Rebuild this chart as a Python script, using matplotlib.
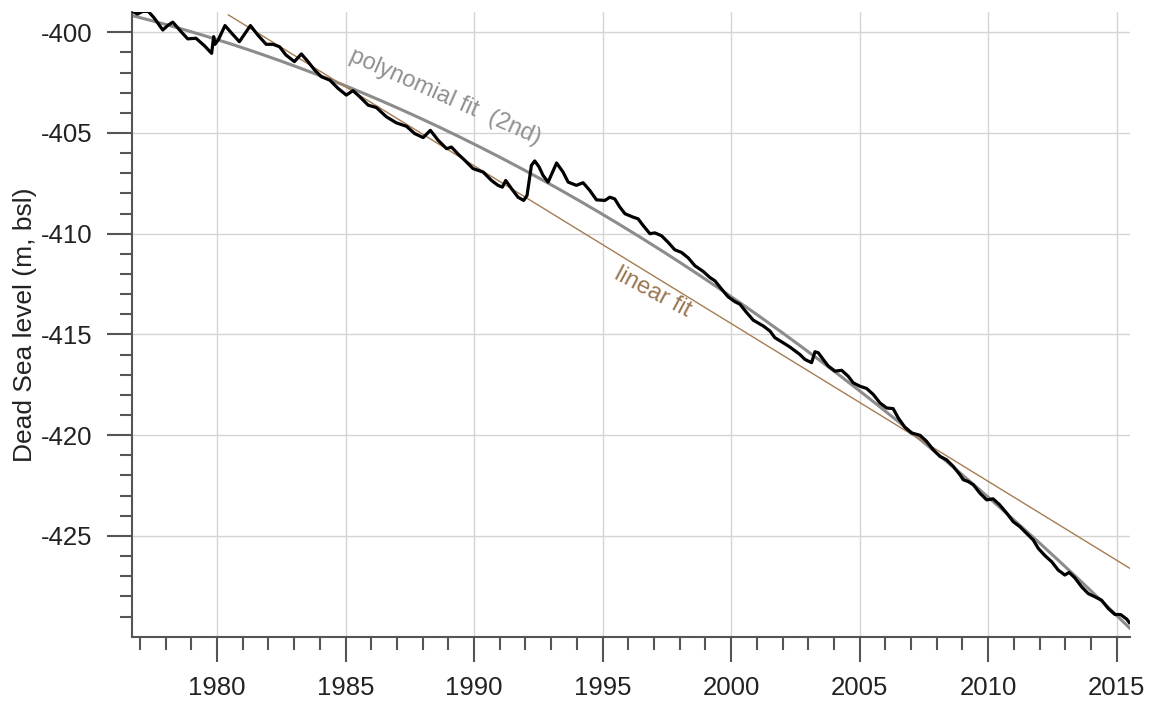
import numpy as np
import matplotlib.pyplot as plt
from matplotlib.ticker import MultipleLocator, FixedLocator

plt.rcParams['font.family'] = ['Liberation Sans', 'DejaVu Sans']
plt.rcParams['axes.unicode_minus'] = False

# Dead Sea level (m below sea level)
years = [
    1976.68, 1976.91, 1977.10, 1977.33, 1977.56, 1977.89, 1978.08, 1978.28, 1978.60, 1978.86,
    1979.18, 1979.51, 1979.79, 1979.87, 1979.92, 1980.05, 1980.31, 1980.57, 1980.87, 1981.07,
    1981.30, 1981.58, 1981.91, 1982.17, 1982.43, 1982.68, 1983.01, 1983.28, 1983.54, 1983.80,
    1984.06, 1984.39, 1984.71, 1985.03, 1985.29, 1985.55, 1985.88, 1986.20, 1986.59, 1986.98,
    1987.37, 1987.69, 1988.02, 1988.30, 1988.60, 1988.93, 1989.12, 1989.38, 1989.64, 1989.96,
    1990.35, 1990.68, 1990.93, 1991.10, 1991.23, 1991.46, 1991.71, 1991.93, 1992.06, 1992.23,
    1992.36, 1992.53, 1992.68, 1992.88, 1993.21, 1993.46, 1993.66, 1993.98, 1994.24, 1994.50,
    1994.76, 1995.09, 1995.28, 1995.47, 1995.67, 1995.87, 1996.19, 1996.38, 1996.58, 1996.84,
    1997.03, 1997.29, 1997.55, 1997.81, 1998.07, 1998.33, 1998.59, 1998.91, 1999.17, 1999.37,
    1999.63, 1999.88, 2000.14, 2000.34, 2000.60, 2000.86, 2001.25, 2001.51, 2001.70, 2002.02,
    2002.28, 2002.67, 2002.87, 2003.13, 2003.26, 2003.39, 2003.58, 2003.78, 2004.04, 2004.30,
    2004.55, 2004.75, 2005.01, 2005.27, 2005.53, 2005.79, 2006.05, 2006.30, 2006.50, 2006.76,
    2007.02, 2007.34, 2007.60, 2007.86, 2008.12, 2008.38, 2008.64, 2008.90, 2009.03, 2009.22,
    2009.42, 2009.68, 2009.94, 2010.19, 2010.45, 2010.72, 2010.97, 2011.23, 2011.49, 2011.75,
    2011.95, 2012.21, 2012.47, 2012.72, 2012.98, 2013.15, 2013.37, 2013.63, 2013.89, 2014.15,
    2014.41, 2014.67, 2014.93, 2015.15, 2015.39, 2015.49,
]
levels = [
    -398.94, -399.10, -398.97, -398.97, -399.30, -399.89, -399.67, -399.50, -399.97, -400.33,
    -400.30, -400.67, -401.05, -400.22, -400.60, -400.38, -399.67, -400.05, -400.47, -400.10,
    -399.67, -400.13, -400.60, -400.60, -400.72, -401.13, -401.46, -401.08, -401.46, -401.88,
    -402.21, -402.38, -402.79, -403.12, -402.90, -403.20, -403.62, -403.74, -404.20, -404.50,
    -404.67, -405.03, -405.23, -404.87, -405.36, -405.78, -405.70, -406.05, -406.36, -406.77,
    -406.94, -407.36, -407.60, -407.69, -407.36, -407.77, -408.19, -408.35, -408.10, -406.61,
    -406.39, -406.69, -407.10, -407.44, -406.49, -406.94, -407.44, -407.60, -407.47, -407.85,
    -408.32, -408.35, -408.19, -408.27, -408.68, -409.01, -409.18, -409.26, -409.60, -410.00,
    -409.96, -410.10, -410.43, -410.80, -410.93, -411.20, -411.59, -411.87, -412.17, -412.34,
    -412.75, -413.13, -413.37, -413.50, -413.91, -414.29, -414.58, -414.83, -415.16, -415.41,
    -415.62, -415.99, -416.24, -416.40, -415.86, -415.91, -416.24, -416.57, -416.82, -416.78,
    -417.07, -417.40, -417.57, -417.68, -417.98, -418.40, -418.65, -418.68, -419.14, -419.61,
    -419.89, -420.00, -420.30, -420.72, -421.05, -421.22, -421.55, -421.96, -422.21, -422.30,
    -422.46, -422.88, -423.21, -423.16, -423.46, -423.87, -424.29, -424.54, -424.87, -425.20,
    -425.62, -425.98, -426.28, -426.69, -426.94, -426.81, -427.08, -427.52, -427.86, -428.02,
    -428.19, -428.60, -428.90, -428.90, -429.13, -429.30,
]

# linear fit line, as drawn (end points)
lin_years = [1980.44, 2015.5]
lin_levels = [-399.14, -426.6]

y_major = [-425, -420, -415, -410, -405, -400]

years = np.array(years)
levels = np.array(levels)

# 2nd order polynomial fit of the series
coef = np.polyfit(years, levels, 2)
t = np.linspace(years.min(), 2015.5, 300)
poly = np.polyval(coef, t)

fig = plt.figure(figsize=(11.55, 7.05), dpi=100)
ax = fig.add_axes([0.114, 0.0969, 0.864, 0.886])

ax.grid(True, which='major', color='#d4d4d4', lw=1.0, zorder=0)
ax.plot(t, poly, color='#8c8c8c', lw=2.2, zorder=2)
ax.plot(lin_years, lin_levels, color='#a67c52', lw=1.0, zorder=2)
ax.plot(years, levels, color='black', lw=2.3, zorder=3)

# labels placed in pixel coords (origin bottom-left)
ax.text(445, 705 - 97, 'polynomial fit  (2nd)', transform=None, fontsize=17,
        color='#909090', rotation=-24, ha='center', va='center',
        rotation_mode='anchor')
ax.text(653, 705 - 292, 'linear fit', transform=None, fontsize=17,
        color='#9b7653', rotation=-28, ha='center', va='center',
        rotation_mode='anchor')

ax.set_xlim(1976.68, 2015.5)
ax.set_ylim(-430.0, -399.0)
ax.xaxis.set_major_locator(MultipleLocator(5))
ax.xaxis.set_minor_locator(MultipleLocator(1))
ax.yaxis.set_major_locator(FixedLocator(y_major))
ax.yaxis.set_minor_locator(FixedLocator(np.arange(-429, -399)))

for s in ['top', 'right']:
    ax.spines[s].set_visible(False)
for s in ['left', 'bottom']:
    ax.spines[s].set_color('#555555')
    ax.spines[s].set_linewidth(1.5)

ax.tick_params(which='major', direction='out', length=18, width=1.5,
               color='#555555', labelsize=18.5, labelcolor='#222222', pad=10)
ax.tick_params(which='minor', direction='out', length=9, width=1.5,
               color='#555555')

ax.set_ylabel('Dead Sea level (m, bsl)', fontsize=19, color='#222222')
ax.yaxis.set_label_coords(-0.095, 0.5)

fig.savefig('out.png', dpi=100)
